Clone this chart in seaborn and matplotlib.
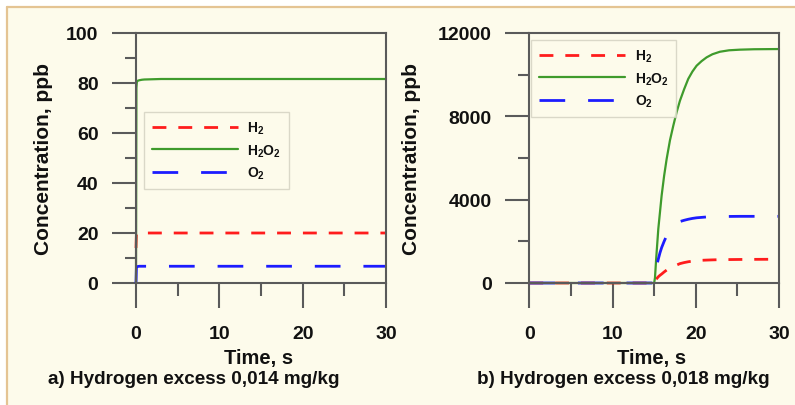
import numpy as np
import pandas as pd
import matplotlib
matplotlib.use("Agg")
import matplotlib.pyplot as plt
from matplotlib.patches import Rectangle
from matplotlib.lines import Line2D
from matplotlib.ticker import MultipleLocator
import seaborn as sns

# ---- data -------------------------------------------------------------
species = ["H$_2$", "H$_2$O$_2$", "O$_2$"]

# a) hydrogen excess 0,014 mg/kg
time_a = [0, 0.05, 0.1, 0.2, 0.4, 0.7, 1, 2, 3, 5, 10, 20, 30]
h2_a   = [14, 19.5, 19.8, 20, 20, 20, 20, 20, 20, 20, 20, 20, 20]
h2o2_a = [0, 78, 80.4, 80.9, 81.1, 81.3, 81.4, 81.5, 81.6, 81.6, 81.6, 81.6, 81.6]
o2_a   = [0, 6.3, 6.5, 6.6, 6.7, 6.7, 6.7, 6.7, 6.7, 6.7, 6.7, 6.7, 6.7]

# b) hydrogen excess 0,018 mg/kg
time_b = [0, 5, 10, 15, 15.1, 15.24, 15.5, 15.7, 15.9, 16.2, 16.5, 16.9, 17.3,
          17.7, 18.1, 18.6, 19.1, 19.6, 20.1, 20.7, 21.3, 22.0, 22.9, 24.0,
          25.3, 27, 30]
h2_b   = [0, 0, 0, 0, 80, 180, 300, 370, 430, 530, 620, 710, 790,
          860, 930, 980, 1020, 1050, 1070, 1090, 1100, 1110, 1120, 1125,
          1130, 1135, 1140]
h2o2_b = [0, 0, 0, 0, 250, 1150, 2600, 3400, 4200, 5150, 5950, 6850, 7550,
          8200, 8750, 9300, 9800, 10150, 10430, 10650, 10830, 10980, 11100, 11170,
          11200, 11220, 11230]
o2_b   = [0, 0, 0, 0, 300, 700, 1150, 1450, 1700, 2000, 2270, 2500, 2700,
          2850, 2950, 3010, 3060, 3100, 3130, 3150, 3170, 3180, 3190, 3195,
          3200, 3200, 3200]

titles = ["a) Hydrogen excess 0,014 mg/kg", "b) Hydrogen excess 0,018 mg/kg"]

# ---- style ------------------------------------------------------------
sns.set_theme(style="ticks")
plt.rcParams["font.family"] = ["Liberation Sans", "DejaVu Sans"]
plt.rcParams["font.weight"] = "bold"
plt.rcParams["mathtext.fontset"] = "custom"
plt.rcParams["mathtext.rm"] = "Liberation Sans:bold"
plt.rcParams["mathtext.bf"] = "Liberation Sans:bold"
plt.rcParams["mathtext.default"] = "rm"
plt.rcParams["lines.scale_dashes"] = False

CREAM = "#fdfbeb"
TAN = "#e4c493"
SPINE = "#5a5a5a"
colors = ["#ff1c1c", "#3f9b2c", "#1c1cff"]
styles = [(0, (10, 8.6)), "-", (0, (18.5, 16.5))]
widths = [2.0, 1.6, 2.0]

fig = plt.figure(figsize=(7.95, 4.06), dpi=100)
fig.patch.set_facecolor("white")
W, H = 795, 406
fig.patches.append(Rectangle((7 / W, 0), 1, (H - 8) / H, transform=fig.transFigure,
                             facecolor=CREAM, edgecolor="none", zorder=-10))
fig.lines.append(Line2D([7 / W, 1], [(H - 8) / H] * 2, transform=fig.transFigure,
                        color=TAN, lw=1.6))
fig.lines.append(Line2D([7 / W] * 2, [0, (H - 8) / H], transform=fig.transFigure,
                        color=TAN, lw=1.6))

def px_axes(x0, x1, y0, y1):
    return fig.add_axes([x0 / W, (H - y1) / H, (x1 - x0) / W, (y1 - y0) / H])

ax_a = px_axes(136, 386, 34, 284)
ax_b = px_axes(529.3, 779, 34, 284)

panels = [
    (ax_a, time_a, [h2_a, h2o2_a, o2_a], 100, 20, 10, (0.032, 0.684)),
    (ax_b, time_b, [h2_b, h2o2_b, o2_b], 12000, 4000, 2000, (0.007, 0.972)),
]

for ax, t, series, ymax, ymaj, ymin, leg_anchor in panels:
    ax.set_facecolor("none")
    for name, vals, c, ls, lw in zip(species, series, colors, styles, widths):
        df = pd.DataFrame({"t": t, "c": vals})
        sns.lineplot(data=df, x="t", y="c", ax=ax, color=c, linestyle=ls,
                     linewidth=lw, label=name, clip_on=False)
    ax.set_xlim(0, 30)
    ax.set_ylim(0, ymax)
    ax.xaxis.set_major_locator(MultipleLocator(10))
    ax.xaxis.set_minor_locator(MultipleLocator(5))
    ax.yaxis.set_major_locator(MultipleLocator(ymaj))
    ax.yaxis.set_minor_locator(MultipleLocator(ymin))
    for sp in ax.spines.values():
        sp.set_color(SPINE)
        sp.set_linewidth(1.5)
    ax.tick_params(axis="both", which="both", direction="out", color=SPINE,
                   width=1.5, labelsize=14, labelcolor="#111111")
    ax.tick_params(axis="x", which="major", length=18, pad=12)
    ax.tick_params(axis="x", which="minor", length=9.4)
    ax.tick_params(axis="y", which="major", length=17, pad=10)
    ax.tick_params(axis="y", which="minor", length=8)
    for lab in ax.get_xticklabels() + ax.get_yticklabels():
        lab.set_fontweight("bold")
    ax.set_xlabel("Time, s", fontsize=14.5, fontweight="bold", color="#111111")
    ax.set_ylabel("Concentration, ppb", fontsize=15, fontweight="bold", color="#111111")
    ax.xaxis.set_label_coords(0.49, -0.262)
    leg = ax.legend(loc="upper left", bbox_to_anchor=leg_anchor, frameon=True,
                    fancybox=False, fontsize=10, handlelength=6.2,
                    handletextpad=0.7, labelspacing=0.45, borderpad=0.55,
                    borderaxespad=0)
    leg.get_frame().set_facecolor(CREAM)
    leg.get_frame().set_edgecolor("#d2d0c0")
    leg.get_frame().set_linewidth(1.0)
    for txt in leg.get_texts():
        txt.set_color("#111111")

ax_a.yaxis.set_label_coords(-0.33, 0.5)
ax_b.yaxis.set_label_coords(-0.435, 0.5)

fig.text(194 / W, (H - 380) / H, titles[0], ha="center", va="center",
         fontsize=13.6, fontweight="bold", color="#111111")
fig.text(623.5 / W, (H - 380) / H, titles[1], ha="center", va="center",
         fontsize=13.6, fontweight="bold", color="#111111")

fig.savefig("out.png", dpi=100, facecolor=fig.get_facecolor())
